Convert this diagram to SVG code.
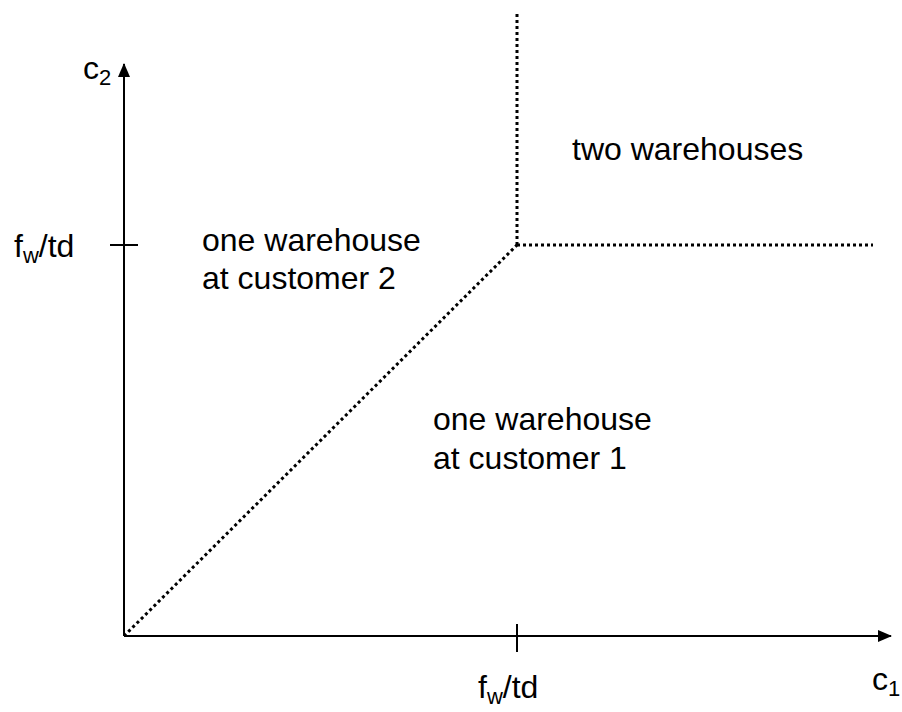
<svg xmlns="http://www.w3.org/2000/svg" width="902" height="712" viewBox="0 0 902 712">
<defs>
<marker id="arr" markerWidth="14" markerHeight="12" refX="13" refY="6" orient="auto" markerUnits="userSpaceOnUse">
<path d="M0,0 L14,6 L0,12 Z" fill="#000"/>
</marker>
<style>
.ax{stroke:#000;stroke-width:2;fill:none}
.dot{stroke:#000;stroke-width:3;stroke-dasharray:3 3;fill:none}
text{font-family:"Liberation Sans",Arial,sans-serif;font-size:32px;fill:#000}
.sub{font-size:22px}
</style>
</defs>
<rect width="902" height="712" fill="#fff"/>
<g id="connectors">
<line class="ax" x1="124" y1="636" x2="124" y2="64" marker-end="url(#arr)"/>
<line class="ax" x1="124" y1="636" x2="891" y2="636" marker-end="url(#arr)"/>
<line class="ax" x1="110" y1="245" x2="138" y2="245"/>
<line class="ax" x1="517" y1="624" x2="517" y2="652"/>
<line class="dot" x1="124" y1="636" x2="517" y2="245"/>
<line class="dot" x1="517" y1="245" x2="517" y2="14"/>
<line class="dot" x1="517" y1="245" x2="873" y2="245"/>
</g>
<g id="label-c2"><text x="83" y="79">c<tspan class="sub" dy="6">2</tspan></text></g>
<g id="label-c1"><text x="872" y="690">c<tspan class="sub" dy="6">1</tspan></text></g>
<g id="label-fw-y"><text x="14" y="257">f<tspan class="sub" dy="6">w</tspan><tspan dy="-6">/td</tspan></text></g>
<g id="label-fw-x"><text x="478" y="698">f<tspan class="sub" dy="6">w</tspan><tspan dy="-6">/td</tspan></text></g>
<g id="region-two"><text x="572" y="160">two warehouses</text></g>
<g id="region-c2"><text x="202" y="251">one warehouse</text><text x="202" y="289">at customer 2</text></g>
<g id="region-c1"><text x="433" y="430">one warehouse</text><text x="433" y="469">at customer 1</text></g>
</svg>
